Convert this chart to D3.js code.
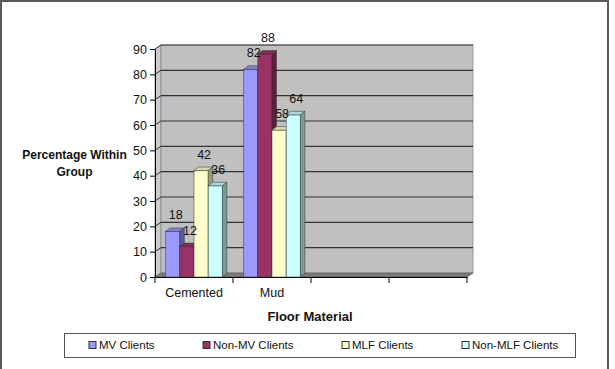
<!DOCTYPE html>
<html>
<head>
<meta charset="utf-8">
<script src="https://cdn.jsdelivr.net/npm/d3@7"></script>
<style>
  html, body { margin: 0; padding: 0; background: #fff; }
  svg { display: block; font-family: "Liberation Sans", Arial, sans-serif; }
</style>
</head>
<body>
<svg id="chart" width="615" height="369"></svg>
<script>
// ---- data ----
const categories = ["Cemented", "Mud", "", ""];
const seriesNames = ["MV Clients", "Non-MV Clients", "MLF Clients", "Non-MLF Clients"];
const mvClients = [18, 82, null, null];
const nonMvClients = [12, 88, null, null];
const mlfClients = [42, 58, null, null];
const nonMlfClients = [36, 64, null, null];
const seriesColors = ["#9999FF", "#993366", "#FFFFCC", "#CCFFFF"];
const yTicks = [0, 10, 20, 30, 40, 50, 60, 70, 80, 90];
const yTitle = ["Percentage Within", "Group"];
const xTitle = "Floor Material";

const seriesValues = [mvClients, nonMvClients, mlfClients, nonMlfClients];

(function () {
const FONT = "'Liberation Sans', Arial, sans-serif";
// ---- layout ----
const svg = d3.select("#chart");
const pLeft = 155, pRight = 467, pTop = 49, pBottom = 277;
const DX = 6, DY = -4;      // wall depth
const BDX = 4.5, BDY = -3.5; // bar depth

const x = d3.scaleBand().domain(d3.range(categories.length)).range([pLeft, pRight]).padding(0);
const x1 = d3.scaleBand().domain(d3.range(seriesNames.length)).range([0, x.bandwidth()])
  .paddingInner(0).paddingOuter(0.75);
const y = d3.scaleLinear().domain([0, 90]).range([pBottom, pTop]);

// outer border
svg.append("rect").attr("x", 1).attr("y", 1).attr("width", 607).attr("height", 380)
  .attr("fill", "none").attr("stroke", "#5a5a5a").attr("stroke-width", 2);

// side wall
svg.append("path")
  .attr("d", `M${pLeft},${y(90)}L${pLeft + DX},${y(90) + DY}L${pLeft + DX},${y(0) + DY}L${pLeft},${y(0)}Z`)
  .attr("fill", "#CCCCCC").attr("stroke", "#808080").attr("stroke-width", 0.8);
// back wall
svg.append("rect")
  .attr("x", pLeft + DX).attr("y", y(90) + DY)
  .attr("width", pRight - pLeft).attr("height", y(0) - y(90))
  .attr("fill", "#C0C0C0").attr("stroke", "#8a8a8a").attr("stroke-width", 0.8);
// floor
svg.append("path")
  .attr("d", `M${pLeft},${y(0)}L${pRight},${y(0)}L${pRight + DX},${y(0) + DY}L${pLeft + DX},${y(0) + DY}Z`)
  .attr("fill", "#7a7a7a").attr("stroke", "#555").attr("stroke-width", 0.6);

// gridlines
const grid = svg.append("g");
yTicks.filter(v => v > 0).forEach(v => {
  grid.append("line").attr("x1", pLeft + DX).attr("x2", pRight + DX)
    .attr("y1", y(v) + DY).attr("y2", y(v) + DY)
    .attr("stroke", "#333").attr("stroke-width", 1.1);
  grid.append("line").attr("x1", pLeft).attr("x2", pLeft + DX)
    .attr("y1", y(v)).attr("y2", y(v) + DY)
    .attr("stroke", "#333").attr("stroke-width", 1);
});

// y axis
const yAxis = svg.append("g").attr("transform", `translate(${pLeft},0)`)
  .call(d3.axisLeft(y).tickValues(yTicks).tickSize(5).tickSizeOuter(0).tickPadding(3));
yAxis.select(".domain").attr("stroke", "#000");
yAxis.selectAll(".tick line").attr("stroke", "#000");
yAxis.selectAll("text").attr("font-size", "12.5px").attr("fill", "#111").attr("font-family", FONT);

// x axis
const xAxis = svg.append("g").attr("transform", `translate(0,${pBottom})`)
  .call(d3.axisBottom(x).tickSize(0).tickSizeOuter(0).tickFormat(i => categories[i]).tickPadding(11));
xAxis.select(".domain").attr("stroke", "#000");
xAxis.selectAll("text").attr("font-size", "12.5px").attr("fill", "#111").attr("font-family", FONT);
// category boundary ticks
const bounds = d3.range(categories.length + 1).map(i => i < categories.length ? x(i) : x(i - 1) + x.bandwidth());
svg.append("g").selectAll("line").data(bounds).join("line")
  .attr("x1", d => d).attr("x2", d => d).attr("y1", pBottom).attr("y2", pBottom + 6)
  .attr("stroke", "#000");

// bars
const shade = (c, k) => { const o = d3.rgb(c); return d3.rgb(o.r * k, o.g * k, o.b * k).formatHex(); };
const bars = svg.append("g");
const labels = [];
categories.forEach((cat, ci) => {
  seriesValues.forEach((vals, si) => {
    const v = vals[ci];
    if (v == null) return;
    const x0 = x(ci) + x1(si), w = x1.bandwidth();
    const yT = y(v), yB = y(0);
    const g = bars.append("g");
    const col = seriesColors[si];
    g.append("rect").attr("x", x0).attr("y", yT).attr("width", w).attr("height", yB - yT)
      .attr("fill", col).attr("stroke", "#333").attr("stroke-width", 0.5);
    g.append("path")
      .attr("d", `M${x0},${yT}L${x0 + w},${yT}L${x0 + w + BDX},${yT + BDY}L${x0 + BDX},${yT + BDY}Z`)
      .attr("fill", shade(col, 0.85)).attr("stroke", "#333").attr("stroke-width", 0.5);
    g.append("path")
      .attr("d", `M${x0 + w},${yT}L${x0 + w + BDX},${yT + BDY}L${x0 + w + BDX},${yB + BDY}L${x0 + w},${yB}Z`)
      .attr("fill", shade(col, 0.6)).attr("stroke", "#333").attr("stroke-width", 0.5);
    labels.push({ x: x0 + w / 2 + 3, y: yT - 12, v });
  });
});

svg.append("g").selectAll("text").data(labels).join("text")
  .attr("x", d => d.x).attr("y", d => d.y).attr("text-anchor", "middle")
  .attr("font-family", FONT).attr("font-size", "12.5px").attr("fill", "#111").text(d => d.v);

// axis titles
const yTitleText = svg.append("text").attr("text-anchor", "middle").attr("font-size", "12px")
  .attr("font-family", FONT).attr("font-weight", "bold").attr("fill", "#111");
yTitle.forEach((t, i) => yTitleText.append("tspan").attr("x", 74.5).attr("y", 159 + i * 17).text(t));
svg.append("text").attr("x", 310).attr("y", 321).attr("text-anchor", "middle")
  .attr("font-family", FONT).attr("font-size", "13px").attr("font-weight", "bold").attr("fill", "#111").text(xTitle);

// legend
svg.append("rect").attr("x", 64.5).attr("y", 333.5).attr("width", 511).attr("height", 24)
  .attr("fill", "#fff").attr("stroke", "#555").attr("stroke-width", 1);
const legX = [89, 203, 342, 462];
const leg = svg.append("g").selectAll("g").data(seriesNames).join("g")
  .attr("transform", (d, i) => `translate(${legX[i]},345)`);
leg.append("rect").attr("x", 0).attr("y", -3.5).attr("width", 7).attr("height", 7)
  .attr("fill", (d, i) => seriesColors[i]).attr("stroke", "#333").attr("stroke-width", 1);
leg.append("text").attr("x", 10).attr("y", 4).attr("font-family", FONT).attr("font-size", "11.5px")
  .attr("fill", "#111").text(d => d);
})();
</script>
</body>
</html>
